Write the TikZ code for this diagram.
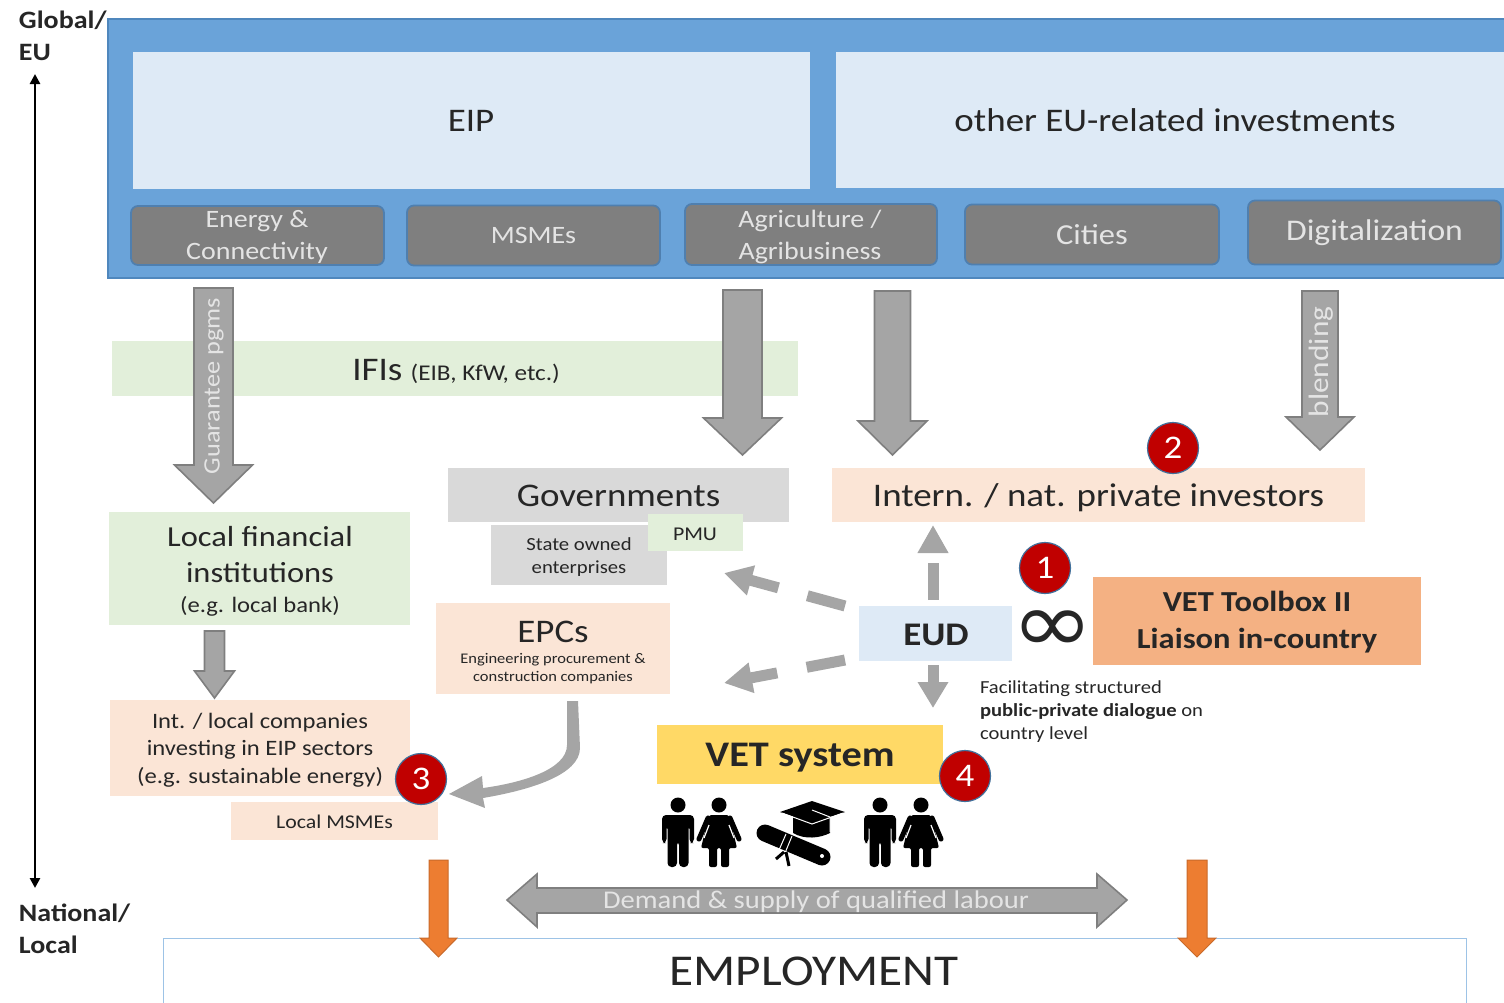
\documentclass[tikz,border=0pt]{standalone}
\usepackage{fontspec}
\setmainfont[FakeStretch=1.12]{Carlito}
\newfontfamily\symfont[FakeStretch=1.15]{DejaVu Sans}
\usetikzlibrary{arrows.meta,bending}
\definecolor{band}{HTML}{6AA3D9}
\definecolor{bandline}{HTML}{4F87BD}
\definecolor{palebl}{HTML}{DEEAF6}
\definecolor{sector}{HTML}{7F7F7F}
\definecolor{sectorline}{HTML}{4F7FAF}
\definecolor{lightgreen}{HTML}{E2EFDA}
\definecolor{peach}{HTML}{FBE5D6}
\definecolor{toolbox}{HTML}{F4B183}
\definecolor{vetyellow}{HTML}{FFD966}
\definecolor{govgrey}{HTML}{D9D9D9}
\definecolor{badgered}{HTML}{C00000}
\definecolor{badgeline}{HTML}{41719C}
\definecolor{arrowfill}{HTML}{A5A5A5}
\definecolor{arrowline}{HTML}{7F7F7F}
\definecolor{orangearrow}{HTML}{ED7D31}
\definecolor{emplline}{HTML}{9DC3E6}
\definecolor{txt}{HTML}{262626}
\definecolor{lighttxt}{HTML}{E4E4E4}
\newcommand{\fs}[1]{\fontsize{#1}{#1}\selectfont}
\newcommand{\fsl}[2]{\fontsize{#1}{#2}\selectfont}
\tikzset{
  x=1pt,y=-1pt,
  flat/.style={inner sep=0pt,outer sep=0pt,text=txt,align=center},
  sectorbox/.style={fill=sector,draw=sectorline,line width=1.8pt,rounded corners=7pt,inner sep=0pt,text=lighttxt,align=center},
  badge/.style={circle,fill=badgered,draw=badgeline,line width=1.2pt,minimum size=51pt,inner sep=0pt,text=white,font=\fs{33}},
  bigarrow/.style={draw=arrowline,line width=1.6pt,fill=arrowfill},
  dasharrow/.style={draw=arrowfill,line width=11pt},
}
\newcommand{\blockdown}[8][bigarrow]{%
  \path[#1] (#2-#5,#3) -- (#2+#5,#3) -- (#2+#5,#7) -- (#2+#6,#7) -- (#2,#4) -- (#2-#6,#7) -- (#2-#5,#7) -- cycle;}
\newcommand{\manfig}[2]{%
  \begin{scope}[shift={(#1,#2)}]
   \fill[black] (0,0) circle (7.5);
   \fill[black,rounded corners=4pt] (-16,10) -- (16,10) -- (16,38) -- (11.5,38) -- (11.5,20) -- (10.5,20) -- (10.5,62) -- (1,62) -- (1,36) -- (-1,36) -- (-1,62) -- (-10.5,62) -- (-10.5,20) -- (-11.5,20) -- (-11.5,38) -- (-16,38) -- cycle;
  \end{scope}}
\newcommand{\womanfig}[2]{%
  \begin{scope}[shift={(#1,#2)}]
   \fill[black] (0,0) circle (7.5);
   \fill[black,rounded corners=2pt] (-10,10) -- (10,10) -- (13,22) -- (18,43) -- (10,43) -- (10,62) -- (2,62) -- (2,43) -- (-2,43) -- (-2,62) -- (-10,62) -- (-10,43) -- (-18,43) -- (-13,22) -- cycle;
   \draw[black,line width=5pt,line cap=round] (-11,13) -- (-20,34) (11,13) -- (20,34);
   \draw[white,line width=1.2pt] (-10,20) -- (-15,33) (10,20) -- (15,33);
  \end{scope}}
\begin{document}
\begin{tikzpicture}
\useasboundingbox (0,0) rectangle (1504,1002);
\begin{scope}
\clip (0,0) rectangle (1504,1002);

% top band
\fill[band,draw=bandline,line width=1.8pt] (108,19) rectangle (1510,278);
\node[flat,fill=palebl,minimum width=677pt,minimum height=137pt] (eip) at (471.5,120.5) {};
\node[flat,font=\fs{33}] (eiptxt) at (471,121) {EIP};
\node[flat,fill=palebl,minimum width=680pt,minimum height=136pt] (other) at (1176,120) {};
\node[flat,font=\fs{33}] (othertxt) at (1175,120) {other EU-related investments};

\node[sectorbox,minimum width=253pt,minimum height=59pt] (s1) at (257.5,235.5) {};
\node[flat,text=lighttxt,font=\fsl{25}{32}] (s1t) at (257,236.5) {Energy \&\\Connectivity};
\node[sectorbox,minimum width=253pt,minimum height=60pt,font=\fs{25}] (s2) at (533.5,235.5) {MSMEs};
\node[sectorbox,minimum width=252pt,minimum height=61pt] (s3) at (811,234.5) {};
\node[flat,text=lighttxt,font=\fsl{25}{32}] (s3t) at (810,236.5) {Agriculture /\\Agribusiness};
\node[sectorbox,minimum width=254pt,minimum height=60pt,font=\fs{29}] (s4) at (1092,234.5) {Cities};
\node[sectorbox,minimum width=253pt,minimum height=64pt,font=\fs{30}] (s5) at (1374.5,232.5) {Digitalization};

% IFIs
\node[flat,fill=lightgreen,minimum width=686pt,minimum height=55pt] (ifi) at (455,368.5) {};
\node[flat,font=\fs{33}] (ifit) at (456,371) {IFIs {\fs{22.5}(EIB, KfW, etc.)}};

% block arrows
\blockdown{213.5}{288}{503}{19.5}{39}{465}{}
\node[flat,rotate=90,text=lighttxt,font=\fs{23.5}] (gp) at (214,386) {Guarantee pgms};
\blockdown{742.5}{290}{455}{19.5}{39}{418}{}
\blockdown{892.5}{291}{455}{18}{34.5}{421}{}
\blockdown{1320}{291}{450}{18}{34}{417}{}
\node[flat,rotate=90,text=lighttxt,font=\fs{28}] (bl) at (1321,362) {blending};
\blockdown{214.5}{631}{698}{10}{20}{671}{}

% boxes
\node[flat,fill=govgrey,minimum width=341pt,minimum height=54pt] (gov) at (618.5,495) {};
\node[flat,font=\fs{33}] (govt) at (618.5,496) {Governments};
\node[flat,fill=govgrey,minimum width=176pt,minimum height=60pt] (soe) at (579,555) {};
\node[flat,font=\fsl{18.5}{23}] (soet) at (579,557) {State owned\\enterprises};
\node[flat,fill=lightgreen,minimum width=95pt,minimum height=37pt] (pmu) at (695.5,532.5) {};
\node[flat,font=\fs{19.5}] (pmut) at (695,534) {PMU};
\node[flat,fill=peach,minimum width=533pt,minimum height=54pt] (inv) at (1098.5,495) {};
\node[flat,font=\fs{33}] (invt) at (1098.5,497.5) {Intern. / nat. private investors};
\node[flat,fill=lightgreen,minimum width=301pt,minimum height=113pt] (lfi) at (259.5,568.5) {};
\node[flat,font=\fsl{29}{36}] (lfit) at (260,555) {Local financial\\institutions};
\node[flat,font=\fs{22}] (lfis) at (260,606) {(e.g. local bank)};
\node[flat,fill=peach,minimum width=300pt,minimum height=96pt] (loc) at (260,748) {};
\node[flat,font=\fsl{22}{27.5}] (loct) at (260,750) {Int. / local companies\\investing in EIP sectors\\(e.g. sustainable energy)};
\node[flat,fill=peach,minimum width=207pt,minimum height=38pt] (lm) at (334.5,821) {};
\node[flat,font=\fs{19.5}] (lmt) at (334.5,822) {Local MSMEs};
\node[flat,fill=peach,minimum width=234pt,minimum height=91pt] (epc) at (553,648.5) {};
\node[flat,font=\fs{33}] (epct) at (553,632) {EPCs};
\node[flat,font=\fsl{14.7}{18}] (epcs) at (553,669) {Engineering procurement \&\\construction companies};
\node[flat,fill=palebl,minimum width=153pt,minimum height=55pt] (eud) at (935.5,633.5) {};
\node[flat,font=\bfseries\fs{33}] (eudt) at (936,635) {EUD};
\node[flat,fill=toolbox,minimum width=328pt,minimum height=88pt] (tb) at (1257,621) {};
\node[flat,font=\bfseries\fsl{29}{37}] (tbt) at (1257,622) {VET Toolbox II\\Liaison in-country};
\node[flat,fill=vetyellow,minimum width=286pt,minimum height=59pt] (vet) at (800,754.5) {};
\node[flat,font=\bfseries\fs{36}] (vett) at (800,758) {VET system};
\node[flat,anchor=north west,align=left,font=\fsl{18.4}{23}] (fac) at (980,681) {Facilitating structured\\\textbf{public-private dialogue} on\\country level};
\node[flat,font=\symfont\fs{86}] (inf) at (1053,632) {∞};

% dashed arrows from EUD
\coordinate (upS) at (933,600); \coordinate (upE) at (933,525);
\draw[dasharrow,dash pattern=on 37pt off 20pt,-{Triangle[length=28pt,width=29pt]}] (upS) -- (upE);
\coordinate (dnS) at (933,665); \coordinate (dnE) at (933,708);
\draw[arrowfill,line width=11pt,-{Triangle[length=26pt,width=29pt]}] (dnS) -- (dnE);
\coordinate (ulS) at (845,606); \coordinate (ulE) at (724,573);
\draw[dasharrow,dash pattern=on 39pt off 30pt on 100pt,-{Triangle[length=28pt,width=29pt]}] (ulS) -- (ulE);
\coordinate (llS) at (845,660); \coordinate (llE) at (724,683);
\draw[dasharrow,dash pattern=on 39pt off 30pt on 100pt,-{Triangle[length=28pt,width=29pt]}] (llS) -- (llE);

% curved arrow EPC -> local
\fill[arrowfill] (567,701) -- (578,701) -- (580,748) .. controls (580,775) and (530,790) .. (483,798) -- (485,808) -- (449,794) -- (482,776) -- (483,788) .. controls (520,783) and (567,770) .. (567,745) -- cycle;

% double arrow
\path[bigarrow] (507,900) -- (537,874) -- (537,888) -- (1097,888) -- (1097,874) -- (1127,900) -- (1097,927) -- (1097,913) -- (537,913) -- (537,927) -- cycle;
\node[flat,text=lighttxt,font=\fs{25.5}] (dem) at (816,902) {Demand \& supply of qualified labour};

% employment
\node[draw=emplline,line width=1.2pt,fill=white,inner sep=0pt,minimum width=1303pt,minimum height=90pt,anchor=north west] (emp) at (163,938) {};
\node[flat,font=\fs{44}] (empt) at (814,971) {EMPLOYMENT};
\path[fill=orangearrow,draw=orangearrow!85!black,line width=1pt] (429,860) -- (448,860) -- (448,938) -- (457,938) -- (438.5,957) -- (420,938) -- (429,938) -- cycle;
\path[fill=orangearrow,draw=orangearrow!85!black,line width=1pt] (1187,860) -- (1207,860) -- (1207,938) -- (1216,938) -- (1197,957) -- (1178,938) -- (1187,938) -- cycle;

% badges
\node[badge] (b1) at (1045,568) {1};
\node[badge] (b2) at (1173,448) {2};
\node[badge] (b3) at (421,779) {3};
\node[badge] (b4) at (965,776) {4};

% axis
\node[flat,anchor=north west,align=left,text=txt,font=\bfseries\fsl{25}{32}] (glob) at (19,11) {Global/\\EU};
\node[flat,anchor=north west,align=left,text=txt,font=\bfseries\fsl{25}{32}] (nat) at (19,904) {National/\\Local};
\coordinate (axT) at (35,74); \coordinate (axB) at (35,888);
\draw[black,line width=2.5pt,{Triangle[length=10pt,width=10pt]}-{Triangle[length=10pt,width=10pt]}] (axT) -- (axB);

% people
\manfig{678}{805}
\womanfig{719}{805}
\manfig{880}{805}
\womanfig{921}{805}

% cap and diploma
\fill[black] (793,816) -- (793,833) .. controls (805,840) and (820,838) .. (830,833) -- (830,816) -- cycle;
\fill[black] (780,812) -- (812,801) -- (845,812) -- (812,823) -- cycle;
\draw[white,line width=1pt] (782,813) -- (812,824) -- (843,813);
\draw[white,line width=1pt] (812,810) -- (830,817) -- (830,832);
\draw[black,line width=17pt,line cap=round] (765,833) -- (822,857);
\draw[white,line width=1pt] (786,834) -- (779,850);
\draw[white,line width=1pt] (792,836) -- (785,853);
\draw[black,line width=3pt] (784,852) -- (776,859) (786,852) -- (789,866);
\fill[white] (822,856) circle (2);
\end{scope}
\end{tikzpicture}
\end{document}
